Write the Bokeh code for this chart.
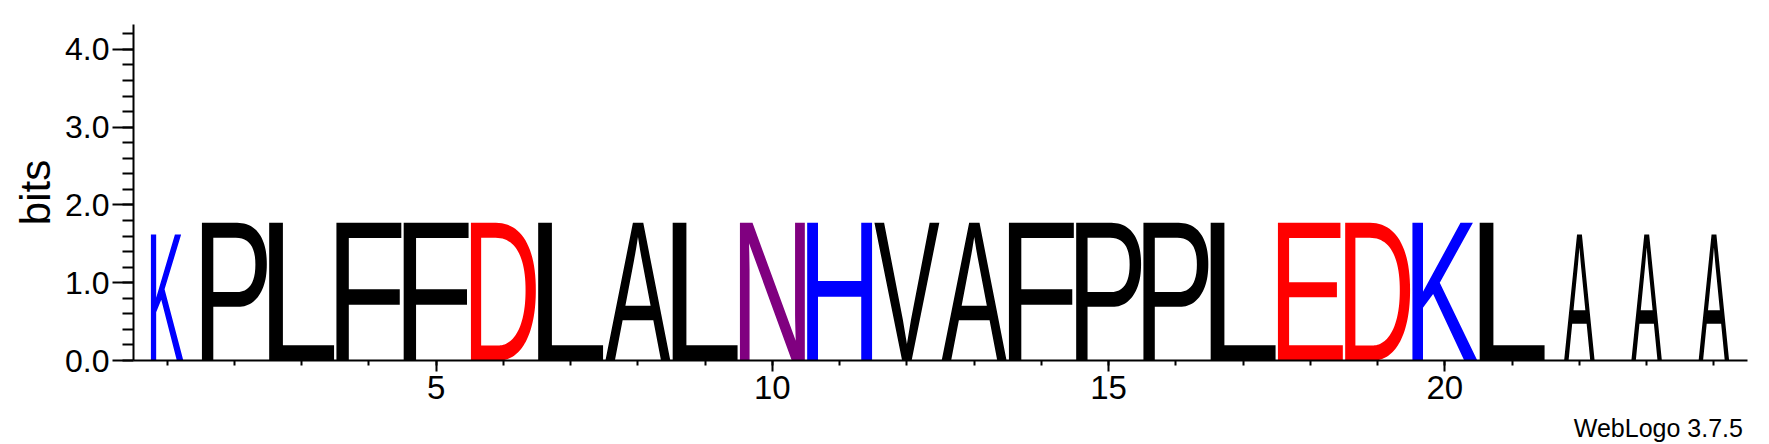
import os
import struct
import numpy as np
from bokeh.plotting import figure
from bokeh.models import (ColumnDataSource, Range1d, SingleIntervalTicker,
                          NumeralTickFormatter, Title)
from bokeh.embed import file_html
from bokeh.resources import INLINE
from bokeh.core.properties import value

# ---------------- data ----------------
positions = [1, 2, 3, 4, 5, 6, 7, 8, 9, 10, 11, 12,
             13, 14, 15, 16, 17, 18, 19, 20, 21, 22, 23, 24]
residues = ["K", "P", "L", "F", "F", "D", "L", "A", "L", "N", "H", "V",
            "A", "F", "P", "P", "L", "E", "D", "K", "L", "A", "A", "A"]
bits = [1.62, 1.77, 1.77, 1.77, 1.77, 1.77, 1.77, 1.77, 1.77, 1.77, 1.77, 1.77,
        1.77, 1.77, 1.77, 1.77, 1.77, 1.77, 1.77, 1.77, 1.77, 1.62, 1.62, 1.62]
stack_fraction = [0.50, 1.0, 1.0, 1.0, 1.0, 1.0, 1.0, 1.0, 1.0, 1.0, 1.0, 1.0,
                  1.0, 1.0, 1.0, 1.0, 1.0, 1.0, 1.0, 1.0, 1.0, 0.47, 0.47, 0.47]
chem_colors = {"K": "#0000FF", "R": "#0000FF", "H": "#0000FF",
               "D": "#FF0000", "E": "#FF0000",
               "N": "#800080", "Q": "#800080",
               "G": "#008000", "S": "#008000", "T": "#008000", "Y": "#008000", "C": "#008000",
               "A": "#000000", "V": "#000000", "L": "#000000", "I": "#000000",
               "P": "#000000", "W": "#000000", "F": "#000000", "M": "#000000"}
y_max = 4.32
footnote = "WebLogo 3.7.5"

LETTER_FILL = 0.965   # fraction of the stack slot filled by the glyph
FONT = "Liberation Sans"


# ---------------- minimal TrueType outline reader ----------------
def u16(d, o):
    return struct.unpack_from(">H", d, o)[0]


def i16(d, o):
    return struct.unpack_from(">h", d, o)[0]


def u32(d, o):
    return struct.unpack_from(">I", d, o)[0]


def load_ttf(path):
    try:
        d = open(path, "rb").read()
        base = u32(d, 12) if d[:4] == b"ttcf" else 0
        n = u16(d, base + 4)
        tables = {}
        for i in range(n):
            rec = base + 12 + 16 * i
            tables[d[rec:rec + 4].decode("latin1")] = (u32(d, rec + 8), u32(d, rec + 12))
        for t in ("glyf", "loca", "cmap", "head", "maxp"):
            if t not in tables:
                return None
        head = tables["head"][0]
        locfmt = i16(d, head + 50)
        ng = u16(d, tables["maxp"][0] + 4)
        lo = tables["loca"][0]
        if locfmt == 0:
            loca = [u16(d, lo + 2 * i) * 2 for i in range(ng + 1)]
        else:
            loca = [u32(d, lo + 4 * i) for i in range(ng + 1)]
        cm = tables["cmap"][0]
        sub = None
        for i in range(u16(d, cm + 2)):
            pid, eid = u16(d, cm + 4 + 8 * i), u16(d, cm + 6 + 8 * i)
            off = u32(d, cm + 8 + 8 * i)
            if u16(d, cm + off) == 4 and (pid, eid) in ((3, 1), (0, 3), (0, 4), (0, 1), (0, 0)):
                sub = cm + off
                break
        if sub is None:
            return None
        return dict(d=d, glyf=tables["glyf"][0], loca=loca, sub=sub)
    except Exception:
        return None


def gid_for(f, ch):
    d, st = f["d"], f["sub"]
    c = ord(ch)
    seg2 = u16(d, st + 6)
    ends = st + 14
    starts = ends + seg2 + 2
    deltas = starts + seg2
    ros = deltas + seg2
    for i in range(seg2 // 2):
        if u16(d, ends + 2 * i) >= c:
            s = u16(d, starts + 2 * i)
            if s > c:
                return 0
            delta = u16(d, deltas + 2 * i)
            ro = u16(d, ros + 2 * i)
            if ro == 0:
                return (c + delta) & 0xFFFF
            g = u16(d, ros + 2 * i + ro + 2 * (c - s))
            return (g + delta) & 0xFFFF if g else 0
    return 0


def glyph_contours(f, gid):
    d = f["d"]
    if gid <= 0 or f["loca"][gid + 1] == f["loca"][gid]:
        return None
    off = f["glyf"] + f["loca"][gid]
    nc = i16(d, off)
    if nc <= 0:
        return None
    p = off + 10
    ends = [u16(d, p + 2 * k) for k in range(nc)]
    p += 2 * nc
    il = u16(d, p)
    p += 2 + il
    npts = ends[-1] + 1
    flags = []
    while len(flags) < npts:
        fl = d[p]
        p += 1
        flags.append(fl)
        if fl & 8:
            r = d[p]
            p += 1
            flags.extend([fl] * r)
    flags = flags[:npts]
    xs, v = [], 0
    for fl in flags:
        if fl & 2:
            dv = d[p]
            p += 1
            v += dv if fl & 16 else -dv
        elif not (fl & 16):
            v += i16(d, p)
            p += 2
        xs.append(v)
    ys, v = [], 0
    for fl in flags:
        if fl & 4:
            dv = d[p]
            p += 1
            v += dv if fl & 32 else -dv
        elif not (fl & 32):
            v += i16(d, p)
            p += 2
        ys.append(v)
    contours, s = [], 0
    for e in ends:
        contours.append([(xs[k], ys[k], bool(flags[k] & 1)) for k in range(s, e + 1)])
        s = e + 1
    return contours


def flatten(pts, steps=12):
    n = len(pts)
    seq = []
    for k in range(n):
        a, b = pts[k], pts[(k + 1) % n]
        seq.append(a)
        if not a[2] and not b[2]:
            seq.append(((a[0] + b[0]) / 2.0, (a[1] + b[1]) / 2.0, True))
    k0 = next((k for k, q in enumerate(seq) if q[2]), 0)
    seq = seq[k0:] + seq[:k0]
    m = len(seq)
    out = [(float(seq[0][0]), float(seq[0][1]))]
    k = 0
    ts = np.linspace(0, 1, steps + 1)[1:]
    while k < m:
        b = seq[(k + 1) % m]
        if b[2]:
            out.append((float(b[0]), float(b[1])))
            k += 1
        else:
            a, c = seq[k % m], seq[(k + 2) % m]
            for t in ts:
                out.append(((1 - t) ** 2 * a[0] + 2 * (1 - t) * t * b[0] + t * t * c[0],
                            (1 - t) ** 2 * a[1] + 2 * (1 - t) * t * b[1] + t * t * c[1]))
            k += 2
    return out


def signed_area(r):
    a = 0.0
    for i in range(len(r)):
        x1, y1 = r[i]
        x2, y2 = r[(i + 1) % len(r)]
        a += x1 * y2 - x2 * y1
    return a / 2.0


def inside(pt, ring):
    x, y = pt
    c = False
    n = len(ring)
    for i in range(n):
        x1, y1 = ring[i]
        x2, y2 = ring[(i + 1) % n]
        if (y1 > y) != (y2 > y):
            xi = x1 + (y - y1) * (x2 - x1) / (y2 - y1)
            if xi > x:
                c = not c
    return c


def find_font():
    roots = ["/usr/share/fonts", "/usr/local/share/fonts",
             os.path.expanduser("~/.fonts"), os.path.expanduser("~/.local/share/fonts")]
    files = []
    for root in roots:
        if os.path.isdir(root):
            for dp, dn, fn in os.walk(root):
                for fname in fn:
                    files.append(os.path.join(dp, fname))
    prefs = ["LiberationSans-Regular.ttf", "Arimo-Regular.ttf", "DejaVuSans.ttf",
             "Roboto-Regular.ttf", "OpenSans-Regular.ttf", "Lato-Regular.ttf"]
    for pref in prefs:
        for path in files:
            if os.path.basename(path) == pref:
                f = load_ttf(path)
                if f is not None:
                    return f
    for path in files:
        if path.lower().endswith(".ttf"):
            f = load_ttf(path)
            if f is not None:
                return f
    return None


def letter_polygons(f, ch):
    cont = glyph_contours(f, gid_for(f, ch))
    if not cont:
        return None
    rings = [flatten(c) for c in cont]
    allx = [p[0] for r in rings for p in r]
    ally = [p[1] for r in rings for p in r]
    box = (min(allx), min(ally), max(allx), max(ally))
    outers = [r for r in rings if signed_area(r) < 0]
    holes = [r for r in rings if signed_area(r) >= 0]
    if not outers:
        outers, holes = holes, []
    polys = [[o] for o in outers]
    for h in holes:
        for poly in polys:
            if inside(h[0], poly[0]):
                poly.append(h)
                break
    return box, polys


# ---------------- figure ----------------
p = figure(width=1769, height=444,
           x_range=Range1d(0.5, 24.5), y_range=Range1d(0, y_max),
           output_backend="svg", toolbar_location=None,
           min_border_left=133, min_border_right=22,
           min_border_top=24, min_border_bottom=84)
p.outline_line_color = None
p.grid.visible = False
p.background_fill_color = "white"
p.border_fill_color = "white"

font = find_font()
colors = [chem_colors[r] for r in residues]

if font is not None:
    xs_all, ys_all = [], []
    for pos, ch, h, frac in zip(positions, residues, bits, stack_fraction):
        box, polys = letter_polygons(font, ch)
        w = frac * LETTER_FILL
        x0, y0, x1, y1 = box
        gx, gy = [], []
        for poly in polys:
            px, py = [], []
            for ring in poly:
                px.append([pos - w / 2 + (x - x0) / (x1 - x0) * w for x, y in ring])
                py.append([(y - y0) / (y1 - y0) * h for x, y in ring])
            gx.append(px)
            gy.append(py)
        xs_all.append(gx)
        ys_all.append(gy)
    src = ColumnDataSource(dict(xs=xs_all, ys=ys_all, color=colors,
                                residue=residues, bits=bits))
    p.multi_polygons(xs="xs", ys="ys", fill_color="color", line_color=None, source=src)
else:
    src = ColumnDataSource(dict(x=positions, y=[0] * len(positions), t=residues, color=colors))
    p.text(x="x", y="y", text="t", text_color="color", text_align="center",
           text_baseline="alphabetic", text_font_size="190px", text_font=value(FONT), source=src)

# y axis
ya = p.yaxis[0]
ya.ticker = SingleIntervalTicker(interval=1, num_minor_ticks=5)
ya.formatter = NumeralTickFormatter(format="0.0")
ya.axis_line_width = 2
ya.axis_line_color = "black"
ya.major_tick_line_width = 2
ya.minor_tick_line_width = 2
ya.major_tick_line_color = "black"
ya.minor_tick_line_color = "black"
ya.major_tick_out = 21
ya.major_tick_in = 0
ya.minor_tick_out = 11
ya.minor_tick_in = 0
ya.major_label_text_font = FONT
ya.major_label_text_font_size = "32px"
ya.major_label_text_color = "black"
ya.major_label_standoff = 3
ya.axis_label = "bits"
ya.axis_label_text_font = FONT
ya.axis_label_text_font_size = "42px"
ya.axis_label_text_font_style = "normal"
ya.axis_label_text_color = "black"
ya.axis_label_standoff = 3

# x axis
xa = p.xaxis[0]
xa.ticker = SingleIntervalTicker(interval=5, num_minor_ticks=5)
xa.axis_line_width = 2
xa.axis_line_color = "black"
xa.major_tick_line_width = 2
xa.minor_tick_line_width = 2
xa.major_tick_line_color = "black"
xa.minor_tick_line_color = "black"
xa.major_tick_out = 11
xa.major_tick_in = 0
xa.minor_tick_out = 5
xa.minor_tick_in = 0
xa.major_label_text_font = FONT
xa.major_label_text_font_size = "33px"
xa.major_label_text_color = "black"
xa.major_label_standoff = 4
# a blank, tiny axis label only reserves a few pixels between the tick
# labels and the footnote below
xa.axis_label = " "
xa.axis_label_standoff = 0
xa.axis_label_text_font_size = "7px"

# footnote, right-aligned under the x axis
p.add_layout(Title(text=footnote, align="right", vertical_align="bottom",
                   offset=4.6, standoff=0, text_font=FONT,
                   text_font_size="25px", text_font_style="normal",
                   text_color="black"), "below")

open("out.html", "w").write(file_html(p, INLINE))
